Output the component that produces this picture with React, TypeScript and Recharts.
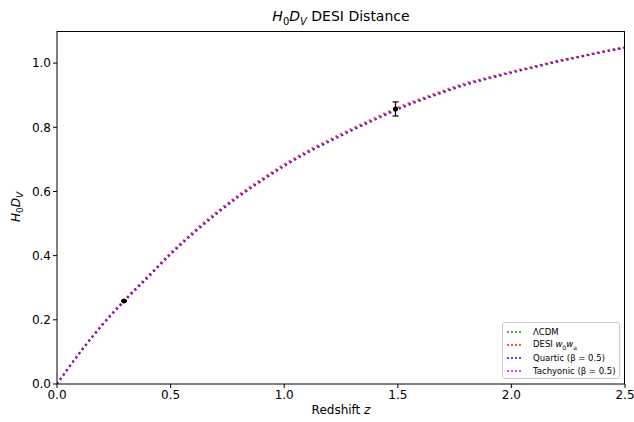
import { ComposedChart, Line, Scatter, ErrorBar, XAxis, YAxis } from "recharts";

const redshift = [0, 0.1, 0.2, 0.3, 0.4, 0.5, 0.6, 0.7, 0.8, 0.9, 1.0, 1.1, 1.2, 1.3, 1.4, 1.5, 1.6, 1.7, 1.8, 1.9, 2.0, 2.1, 2.2, 2.3, 2.4, 2.5];
const lcdm = [0, 0.097, 0.185, 0.262, 0.333, 0.405, 0.47, 0.53, 0.585, 0.634, 0.68, 0.721, 0.757, 0.792, 0.825, 0.857, 0.885, 0.91, 0.934, 0.953, 0.971, 0.988, 1.005, 1.02, 1.035, 1.049];
const desi = [0, 0.098, 0.187, 0.265, 0.337, 0.409, 0.475, 0.535, 0.59, 0.639, 0.685, 0.726, 0.762, 0.797, 0.83, 0.862, 0.889, 0.914, 0.938, 0.956, 0.974, 0.99, 1.007, 1.021, 1.036, 1.049];
const quartic = [0, 0.097, 0.184, 0.261, 0.332, 0.404, 0.469, 0.529, 0.584, 0.633, 0.679, 0.72, 0.756, 0.791, 0.824, 0.856, 0.884, 0.909, 0.933, 0.952, 0.97, 0.987, 1.004, 1.019, 1.034, 1.048];
const tachyonic = [0, 0.097, 0.184, 0.261, 0.332, 0.404, 0.469, 0.529, 0.584, 0.633, 0.679, 0.72, 0.756, 0.791, 0.824, 0.856, 0.884, 0.909, 0.933, 0.952, 0.97, 0.987, 1.004, 1.019, 1.034, 1.048];

const obsZ = [0.295, 1.49];
const obsV = [0.259, 0.857];
const obsErr = [0.002, 0.022];

const xTicks = [0, 0.5, 1.0, 1.5, 2.0, 2.5];
const yTicks = [0, 0.2, 0.4, 0.6, 0.8, 1.0];

const data = redshift.map((z, i) => ({
  z,
  lcdm: lcdm[i],
  desi: desi[i],
  quartic: quartic[i],
  tachyonic: tachyonic[i],
}));
const obs = obsZ.map((z, i) => ({ z, v: obsV[i], err: obsErr[i] }));

const FONT = "'DejaVu Sans', sans-serif";

const series = [
  { key: "lcdm", color: "#008000", label: <>ΛCDM</> },
  {
    key: "desi",
    color: "#ff0000",
    label: (
      <>
        DESI <i>w</i>
        <sub style={{ fontSize: 6 }}>0</sub>
        <i>w</i>
        <sub style={{ fontSize: 6 }}>a</sub>
      </>
    ),
  },
  { key: "quartic", color: "#0000ff", label: <>Quartic (β = 0.5)</> },
  { key: "tachyonic", color: "#bf00bf", label: <>Tachyonic (β = 0.5)</> },
];

const Dot = (props: any) => <circle cx={props.cx} cy={props.cy} r={2.5} fill="#000" />;

export default function App() {
  return (
    <div style={{ position: "absolute", left: 0, top: 0, width: 634, height: 422, background: "#fff", fontFamily: FONT }}>
      <ComposedChart width={634} height={422} data={data} margin={{ top: 31, right: 9, bottom: 0, left: 0 }}>
        <XAxis
          dataKey="z"
          type="number"
          domain={[0, 2.5]}
          ticks={xTicks}
          tickFormatter={(v: number) => v.toFixed(1)}
          height={38}
          stroke="#000"
          tickLine={{ stroke: "#000" }}
          tickSize={4}
          tick={{ fill: "#000", fontSize: 12, fontFamily: FONT }}
          allowDataOverflow
        />
        <YAxis
          type="number"
          domain={[0, 1.1]}
          ticks={yTicks}
          tickFormatter={(v: number) => v.toFixed(1)}
          width={57}
          stroke="#000"
          tickSize={4}
          tick={{ fill: "#000", fontSize: 12, fontFamily: FONT }}
          allowDataOverflow
        />
        {series.map((s) => (
          <Line
            key={s.key}
            dataKey={s.key}
            type="monotone"
            stroke={s.color}
            strokeOpacity={0.7}
            strokeWidth={2}
            strokeDasharray="2 3.3"
            dot={false}
            isAnimationActive={false}
          />
        ))}
        <Scatter data={obs} dataKey="v" shape={Dot} isAnimationActive={false}>
          <ErrorBar dataKey="err" direction="y" width={3} stroke="#000" strokeWidth={1.2} isAnimationActive={false} />
        </Scatter>
      </ComposedChart>

      {/* top/right spines */}
      <div
        style={{
          position: "absolute",
          left: 57,
          top: 31,
          width: 568,
          height: 353,
          borderTop: "1px solid #000",
          borderRight: "1px solid #000",
          boxSizing: "border-box",
          pointerEvents: "none",
        }}
      />

      <div style={{ position: "absolute", left: 0, width: 682, top: 8, textAlign: "center", fontSize: 14, color: "#000" }}>
        <i>H</i>
        <sub style={{ fontSize: 10 }}>0</sub>
        <i>D</i>
        <sub style={{ fontSize: 10 }}>
          <i>V</i>
        </sub>{" "}
        DESI Distance
      </div>

      <div style={{ position: "absolute", left: 0, width: 682, top: 403, textAlign: "center", fontSize: 12, color: "#000" }}>
        Redshift <i>z</i>
      </div>

      <div
        style={{
          position: "absolute",
          left: 17,
          top: 207,
          transform: "translate(-50%, -50%) rotate(-90deg)",
          fontSize: 12,
          whiteSpace: "nowrap",
          color: "#000",
        }}
      >
        <i>H</i>
        <sub style={{ fontSize: 9 }}>0</sub>
        <i>D</i>
        <sub style={{ fontSize: 9 }}>
          <i>V</i>
        </sub>
      </div>

      <div
        style={{
          position: "absolute",
          left: 502,
          top: 322,
          width: 118,
          height: 57,
          boxSizing: "border-box",
          padding: "2px 0",
          border: "1px solid #ccc",
          borderRadius: 3,
          background: "rgba(255,255,255,0.8)",
          fontSize: 8.5,
          color: "#000",
          whiteSpace: "nowrap",
        }}
      >
        {series.map((s) => (
          <div key={s.key} style={{ display: "flex", alignItems: "center", height: 13.2 }}>
            <svg width={14} height={8} style={{ marginLeft: 4, marginRight: 12, flex: "none" }}>
              <line x1={0} y1={4} x2={14} y2={4} stroke={s.color} strokeOpacity={0.7} strokeWidth={2} strokeDasharray="2 2" />
            </svg>
            <span>{s.label}</span>
          </div>
        ))}
      </div>
    </div>
  );
}
